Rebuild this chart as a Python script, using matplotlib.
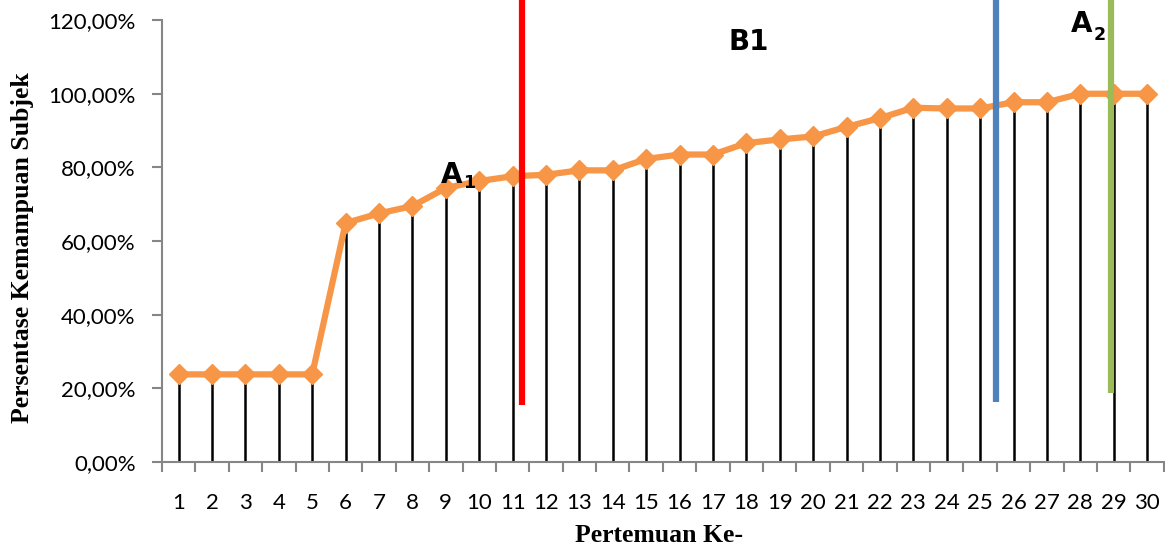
import matplotlib
matplotlib.use("Agg")
import matplotlib.pyplot as plt
from matplotlib.ticker import FuncFormatter

# ---- data ----
meetings = list(range(1, 31))
percent = [23.8, 23.8, 23.8, 23.8, 23.8, 64.9, 67.5, 69.5, 74.4, 76.3,
           77.6, 78.0, 79.2, 79.2, 82.3, 83.5, 83.5, 86.6, 87.6, 88.4,
           91.0, 93.4, 96.2, 96.0, 96.0, 97.7, 97.7, 100.0, 100.0, 100.0]
y_ticks = [0, 20, 40, 60, 80, 100, 120]
phase_lines = [11.27, 25.48, 28.92]
phase_bottoms = [15.5, 16.3, 18.7]
phase_colors = ["#FF0000", "#4F81BD", "#9BBB59"]

fig = plt.figure(figsize=(11.65, 5.51), dpi=100)
ax = fig.add_axes([0.139, 0.1615, 0.860, 0.802])

# drop lines
ax.vlines(meetings, 0, percent, colors="black", linewidth=1.8, zorder=2)
# main line
ax.plot(meetings, percent, color="#F79646", linewidth=4.5, marker="D",
        markersize=10.5, markeredgecolor="#F79646", zorder=3)

# phase lines (extend above the plot top)
for xv, yb, c in zip(phase_lines, phase_bottoms, phase_colors):
    ax.plot([xv, xv], [yb, 127], color=c, linewidth=4.5, clip_on=False,
            zorder=4, solid_capstyle="butt")

ax.set_xlim(0.5, 30.5)
ax.set_ylim(0, 120)
ax.set_yticks(y_ticks)
ax.yaxis.set_major_formatter(FuncFormatter(lambda v, p: f"{v:.2f}%".replace(".", ",")))
ax.set_xticks(meetings)
ax.set_xticklabels([str(m) for m in meetings])
ax.set_xticks([m + 0.5 for m in range(0, 31)], minor=True)

for s in ["top", "right"]:
    ax.spines[s].set_visible(False)
for s in ["left", "bottom"]:
    ax.spines[s].set_color("#868686")
    ax.spines[s].set_linewidth(1.5)

ax.tick_params(axis="y", direction="out", length=7, width=1.5, color="#868686",
               labelsize=16, pad=12)
ax.tick_params(axis="x", which="major", length=0, labelsize=16, pad=22)
ax.tick_params(axis="x", which="minor", direction="out", length=7, width=1.5,
               color="#868686")
for lab in ax.get_xticklabels() + ax.get_yticklabels():
    lab.set_fontfamily("Lato")

fig.text(0.566, 0.029, "Pertemuan Ke-", fontfamily="Liberation Serif",
         fontweight="bold", fontsize=18.5, ha="center", va="center")
fig.text(0.019, 0.55, "Persentase Kemampuan Subjek", rotation=90,
         fontfamily="Liberation Serif", fontweight="bold", fontsize=18.5,
         ha="center", va="center")

lab_kw = dict(fontfamily="DejaVu Sans", fontweight="bold", fontsize=20,
              ha="left", va="baseline", zorder=5, clip_on=False)
sub_kw = dict(fontfamily="DejaVu Sans", fontweight="bold", fontsize=12.5,
              ha="left", va="baseline", zorder=5, clip_on=False)
ax.text(8.84, 75.8, "A", **lab_kw)
ax.text(9.52, 74.4, "1", **sub_kw)
ax.text(17.47, 112.0, "B1", **lab_kw)
ax.text(27.71, 116.8, "A", **lab_kw)
ax.text(28.40, 114.6, "2", **sub_kw)

fig.savefig("out.png", dpi=100)
